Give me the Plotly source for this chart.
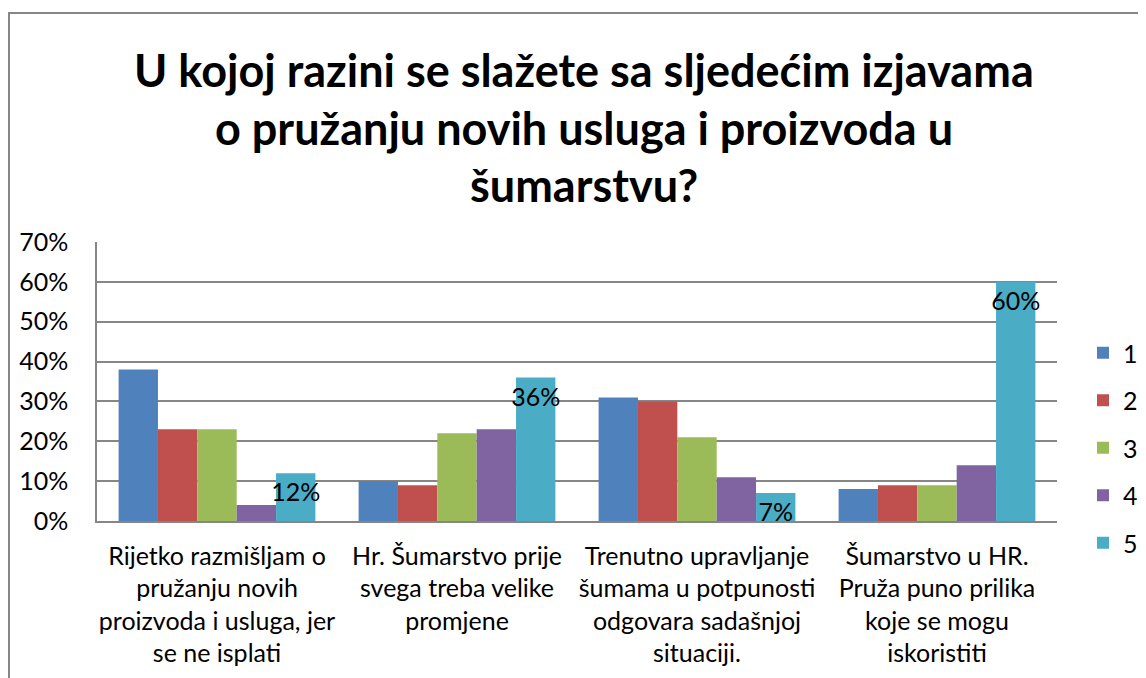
import plotly.graph_objects as go

categories = [
    "Rijetko razmišljam o<br>pružanju novih<br>proizvoda i usluga, jer<br>se ne isplati",
    "Hr. Šumarstvo prije<br>svega treba velike<br>promjene",
    "Trenutno upravljanje<br>šumama u potpunosti<br>odgovara sadašnjoj<br>situaciji.",
    "Šumarstvo u HR.<br>Pruža puno prilika<br>koje se mogu<br>iskoristiti",
]
series_names = ["1", "2", "3", "4", "5"]
s1 = [0.38, 0.10, 0.31, 0.08]
s2 = [0.23, 0.09, 0.30, 0.09]
s3 = [0.23, 0.22, 0.21, 0.09]
s4 = [0.04, 0.23, 0.11, 0.14]
s5 = [0.12, 0.36, 0.07, 0.60]
series_values = [s1, s2, s3, s4, s5]
colors = ["#4F81BD", "#C0504D", "#9BBB59", "#8064A2", "#4BACC6"]
title_lines = [
    "U kojoj razini se slažete sa sljedećim izjavama",
    "o pružanju novih usluga i proizvoda u",
    "šumarstvu?",
]

FONT = "Lato, Carlito, Calibri, sans-serif"
FS = 25
OFF = 8  # page body margin offset

fig = go.Figure()
for i, (name, vals) in enumerate(zip(series_names, series_values)):
    kw = {}
    if name == "5":
        kw = dict(
            text=[f"{round(v*100)}%" for v in vals],
            textposition="inside",
            insidetextanchor="end",
            textangle=0,
            textfont=dict(family=FONT, size=FS, color="black"),
            constraintext="none",
        )
    fig.add_trace(go.Bar(
        x=categories, y=vals, name=name, marker_color=colors[i],
        marker_line_width=0, legendgroup=name, **kw,
    ))

W, H = 1146 - OFF, 678 - OFF
L, R, T, B = 97 - OFF, 1057 - OFF, 242 - OFF, 521 - OFF


def px_x(x):
    return (x - OFF - L) / (R - L)


def px_y(y):
    return (B - (y - OFF)) / (B - T)


fig.update_layout(
    width=W, height=H,
    margin=dict(l=L, r=W - R, t=T, b=H - B, autoexpand=False),
    paper_bgcolor="white", plot_bgcolor="white",
    barmode="group", bargap=0.18, bargroupgap=0,
    font=dict(family=FONT, size=FS, color="black"),
    showlegend=True,
    legend=dict(
        x=px_x(1083), xanchor="left",
        y=px_y(330), yanchor="top",
        font=dict(family=FONT, size=FS, color="black"),
        tracegroupgap=12, itemwidth=30,
        bgcolor="rgba(0,0,0,0)",
    ),
    uniformtext=dict(minsize=8, mode=False),
)
fig.update_yaxes(
    range=[0, 0.7], dtick=0.1, tickformat=".0%",
    showgrid=True, gridcolor="#868686", gridwidth=1.5,
    showline=True, linecolor="#868686", linewidth=1.5,
    ticks="outside", ticklen=22, tickcolor="rgba(0,0,0,0)",
    tickfont=dict(family=FONT, size=FS, color="black"),
    zeroline=False, automargin=False,
)
fig.update_xaxes(
    showline=True, linecolor="#868686", linewidth=1.5,
    ticks="outside", ticklen=12, tickcolor="rgba(0,0,0,0)",
    tickfont=dict(family=FONT, size=FS, color="black"),
    tickangle=0, automargin=False,
)

title_y_px = [70, 128, 185]
for line, ypx in zip(title_lines, title_y_px):
    fig.add_annotation(
        text=f"<b>{line}</b>", xref="paper", yref="paper",
        x=px_x(584), y=px_y(ypx),
        xanchor="center", yanchor="middle", showarrow=False,
        font=dict(family=FONT, size=45, color="black"),
    )

fig.add_shape(
    type="rect", xref="paper", yref="paper",
    x0=px_x(9), x1=px_x(1170),
    y0=px_y(13), y1=px_y(720),
    line=dict(color="#868686", width=2), fillcolor="rgba(0,0,0,0)", layer="below",
)

fig.write_html("out.html")
